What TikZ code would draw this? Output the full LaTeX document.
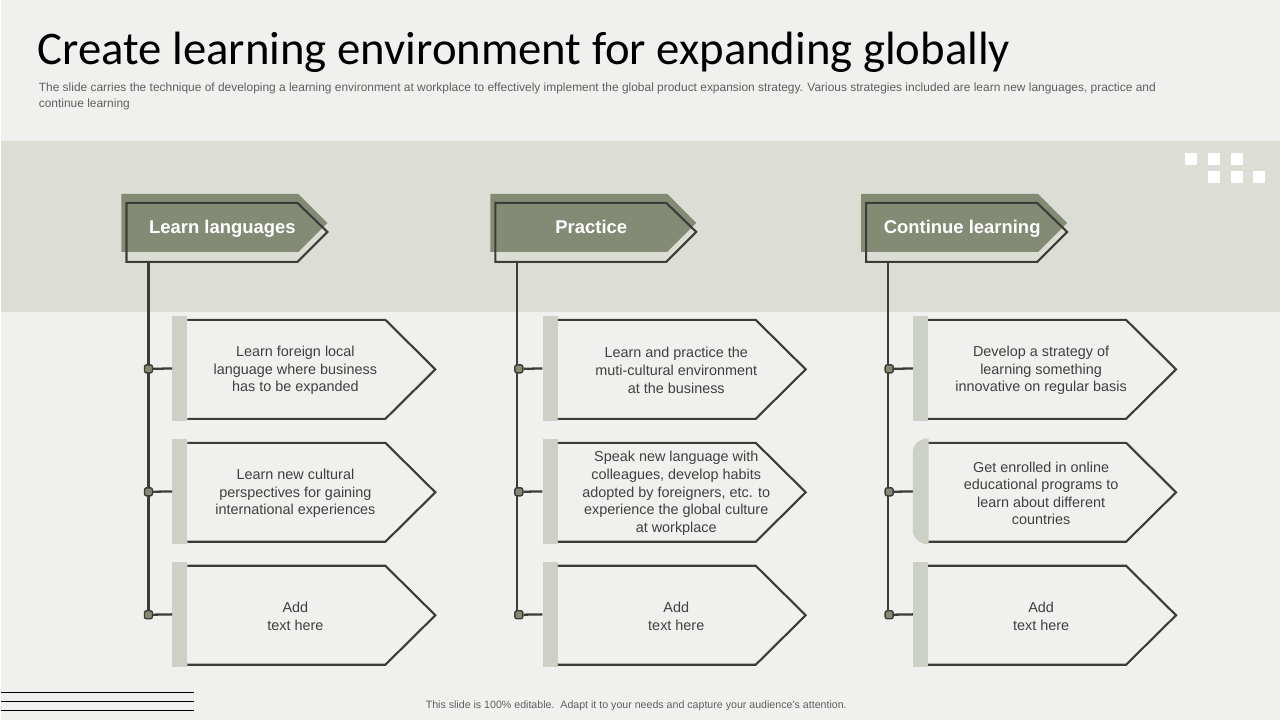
\documentclass[tikz,border=0pt]{standalone}
\usepackage{fontspec}
\setmainfont{Liberation Sans}
\newfontfamily\titlefont{Carlito}
\usetikzlibrary{positioning}
\definecolor{pagebg}{HTML}{F0F0EE}
\definecolor{bandbg}{HTML}{DCDED6}
\definecolor{headfill}{HTML}{838B75}
\definecolor{lineink}{HTML}{3C3D39}
\definecolor{barfill}{HTML}{CDD0C6}
\definecolor{bodyink}{HTML}{404040}
\definecolor{mutedink}{HTML}{5F5F5F}

\begin{document}
\begin{tikzpicture}[
  x=0.02cm,
  y=-0.02cm,
  every node/.style={bodyink},
  headshape/.style={fill=headfill},
  headline/.style={lineink, line width=1.2pt, line join=miter},
  headtext/.style={white, anchor=base, font=\bfseries\fontsize{10.5}{12}\selectfont},
  stem/.style={lineink, line width=1.3pt},
  link/.style={lineink, line width=1.3pt},
  dot/.style={draw=lineink, fill=headfill, line width=0.8pt, rounded corners=1.2pt,
    minimum size=0.16cm, inner sep=0pt},
  bar/.style={fill=barfill, minimum width=0.3cm, minimum height=2.1cm, inner sep=0pt},
  barround/.style={minimum width=0.3cm, minimum height=2.1cm, inner sep=0pt},
  card/.style={lineink, line width=1.2pt, line join=miter},
  cardtext/.style={align=center, font=\fontsize{8.2}{10}\selectfont},
  pixel/.style={fill=white}
]
  % ---- page and band ----
  \fill[pagebg] (0,0) rectangle (1280,720);
  \fill[bandbg] (0,141) rectangle (1280,312);

  % ---- title block ----
  \node[anchor=base west, inner sep=0pt, black] (title) at (37,65)
    {\titlefont\fontsize{26.6}{30}\selectfont Create learning environment for expanding globally};
  \node[anchor=north west, inner sep=0pt, mutedink, align=left,
    font=\fontsize{6.8}{8.6}\selectfont] (subtitle) at (38,83)
    {The slide carries the technique of developing a learning environment at workplace to effectively implement the global product expansion strategy. Various strategies included are learn new languages, practice and\\continue learning};

  % ---- decoration, top right ----
  \foreach \px/\py in {1185/153, 1208/153, 1231/153, 1208/171, 1231/171, 1253/171}
    \fill[pixel] (\px,\py) rectangle ++(12,12);

  % ---- headers and stems ----
  \foreach \col/\dx/\head in {1/0/Learn languages, 2/369/Practice, 3/740/Continue learning}{
    \fill[headshape] (121+\dx,194) -- (298+\dx,194) -- (327+\dx,223)
      -- (298+\dx,252) -- (121+\dx,252) -- cycle;
    \draw[headline] (126+\dx,203) -- (297+\dx,203) -- (327+\dx,232)
      -- (297+\dx,262) -- (126+\dx,262) -- cycle;
    \node[headtext] (head\col) at (222+\dx,234) {\head};
    \coordinate (top\col) at (148+\dx,262);
    \coordinate (foot\col) at (148+\dx,615);
    \draw[stem] (top\col) -- (foot\col);
  }

  % ---- cards ----
  \foreach \col/\row/\tx/\barstyle/\txt in {
      1/1/295/bar/{Learn foreign local\\language where business\\has to be expanded},
      1/2/295/bar/{Learn new cultural\\perspectives for gaining\\international experiences},
      1/3/295/bar/{Add\\text here},
      2/1/676/bar/{Learn and practice the\\muti-cultural environment\\at the business},
      2/2/676/bar/{Speak new language with\\colleagues, develop habits\\adopted by foreigners, etc. to\\experience the global culture\\at workplace},
      2/3/676/bar/{Add\\text here},
      3/1/1041/bar/{Develop a strategy of\\learning something\\innovative on regular basis},
      3/2/1041/barround/{Get enrolled in online\\educational programs to\\learn about different\\countries},
      3/3/1041/bar/{Add\\text here}}{
    \pgfmathsetmacro\dx{(\col-1)*370.5}
    \pgfmathsetmacro\dy{(\row-1)*123}
    \node[\barstyle] (bar\col\row) at (179.5+\dx,368.5+\dy) {};
    \draw[card] (187+\dx,320+\dy) -- (385+\dx,320+\dy) -- (435+\dx,369.5+\dy)
      -- (385+\dx,419+\dy) -- (187+\dx,419+\dy);
    \node[cardtext] (card\col\row) at (\tx,370.5+\dy) {\txt};
    \node[dot] (dot\col\row) at (148+\dx,369+\dy) {};
    \draw[link] (dot\col\row) -- (bar\col\row);
  }

  % ---- the one bar with a rounded left side ----
  \fill[barfill] (bar32.north east) [rounded corners=8pt] -- (bar32.north west)
    -- (bar32.south west) [sharp corners] -- (bar32.south east) -- cycle;

  % ---- footer ----
  \foreach \ly in {693, 702, 711}
    \draw[black, line width=0.6pt] (0,\ly) -- (194,\ly);
  \node[mutedink, font=\fontsize{6.05}{7}\selectfont] (footer) at (636,706)
    {This slide is 100\% editable.\ \ Adapt it to your needs and capture your audience's attention.};
\end{tikzpicture}
\end{document}
